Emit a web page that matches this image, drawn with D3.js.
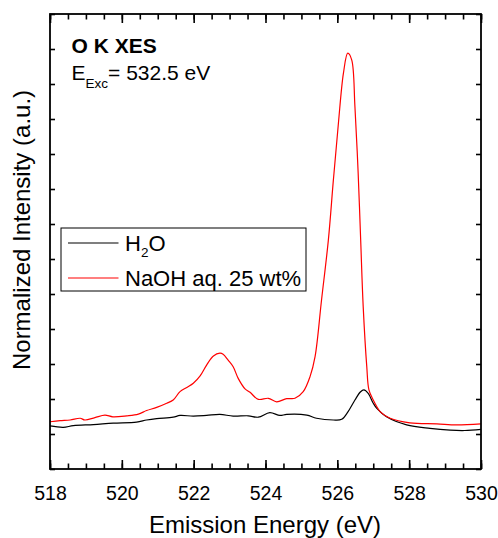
<!DOCTYPE html>
<html>
<head>
<meta charset="utf-8">
<script src="https://cdn.jsdelivr.net/npm/d3@7"></script>
<style>
  html, body { margin: 0; padding: 0; background: #fff; }
  svg { display: block; }
  text { font-family: Arial, "Liberation Sans", sans-serif; fill: #000; }
</style>
</head>
<body>
<script>
// O K-edge X-ray emission spectra, excitation 532.5 eV
const h2oEnergy = [518.00, 518.37, 518.65, 519.21, 519.76, 520.41, 520.69, 520.97, 521.43, 521.62,
  521.99, 522.36, 522.73, 523.10, 523.52, 523.80, 524.12, 524.40, 524.59, 525.15, 525.42, 525.89,
  526.12, 526.30, 526.49, 526.64, 526.74, 526.86, 527.00, 527.10, 527.37, 527.93, 528.58, 529.14, 529.55, 530.00];
const h2oIntensity = [1.23, 1.19, 1.24, 1.27, 1.31, 1.34, 1.40, 1.44, 1.48, 1.53,
  1.51, 1.53, 1.56, 1.51, 1.52, 1.48, 1.61, 1.53, 1.56, 1.54, 1.45, 1.40,
  1.42, 1.64, 1.97, 2.20, 2.26, 2.16, 1.88, 1.73, 1.49, 1.26, 1.16, 1.11, 1.10, 1.13];

const naohEnergy = [518.00, 518.28, 518.56, 518.84, 518.97, 519.25, 519.53, 519.75, 520.14, 520.46,
  520.69, 520.97, 521.25, 521.43, 521.62, 521.81, 521.99, 522.18, 522.36, 522.55, 522.73, 522.82,
  522.96, 523.10, 523.24, 523.43, 523.57, 523.80, 524.08, 524.31, 524.59, 524.82, 525.05, 525.24,
  525.38, 525.56, 525.75, 525.89, 526.03, 526.17, 526.29, 526.40, 526.49, 526.58, 526.65, 526.72,
  526.82, 526.88, 527.00, 527.10, 527.19, 527.47, 528.02, 528.77, 529.32, 530.00];
const naohIntensity = [1.35, 1.38, 1.40, 1.45, 1.40, 1.47, 1.54, 1.49, 1.52, 1.57,
  1.67, 1.76, 1.88, 1.97, 2.21, 2.33, 2.45, 2.66, 2.97, 3.23, 3.31, 3.28,
  3.11, 2.92, 2.59, 2.29, 2.19, 1.99, 2.02, 1.92, 2.01, 2.02, 2.21, 2.64,
  3.21, 4.83, 6.54, 8.26, 9.88, 11.31, 11.88, 11.69, 10.35, 8.45, 6.54, 4.64,
  2.92, 2.26, 1.97, 1.78, 1.64, 1.45, 1.32, 1.29, 1.26, 1.29];

const xMajorTicks = [518, 520, 522, 524, 526, 528, 530];
const xMinorTicks = d3.range(518, 530.001, 0.5);
const yTicks = d3.range(0, 13.001, 1);

const seriesNames = ["H\u2082O", "NaOH aq. 25 wt%"];
const seriesColors = ["#000000", "#ff0000"];

const W = 498, H = 538;
const plotLeft = 50, plotRight = 481, plotTop = 14, plotBottom = 469;

const svg = d3.select("body").append("svg").attr("width", W).attr("height", H);

const x = d3.scaleLinear().domain([518, 530]).range([plotLeft, plotRight]);
const y = d3.scaleLinear().domain([0, 13]).range([plotBottom, plotTop]);

const line = d3.line()
  .x(d => x(d[0]))
  .y(d => y(d[1]))
  .curve(d3.curveCatmullRom.alpha(0.5));

const plot = svg.append("g");
plot.append("path")
  .datum(d3.zip(h2oEnergy, h2oIntensity))
  .attr("d", line).attr("fill", "none")
  .attr("stroke", seriesColors[0]).attr("stroke-width", 1.2);
plot.append("path")
  .datum(d3.zip(naohEnergy, naohIntensity))
  .attr("d", line).attr("fill", "none")
  .attr("stroke", seriesColors[1]).attr("stroke-width", 1.2);

// Axes: inward ticks on all four sides
function styleAxis(g) {
  g.select(".domain").remove();
  g.selectAll(".tick line").attr("stroke", "#000").attr("stroke-width", 1.6);
}

const bottomMinor = d3.axisBottom(x).tickValues(xMinorTicks).tickSize(-5.5).tickFormat("");
const bottomMajor = d3.axisBottom(x).tickValues(xMajorTicks).tickSize(-9).tickPadding(17).tickFormat(d3.format("d"));
const topMinor = d3.axisTop(x).tickValues(xMinorTicks).tickSize(-5.5).tickFormat("");
const topMajor = d3.axisTop(x).tickValues(xMajorTicks).tickSize(-9).tickFormat("");
const leftAx = d3.axisLeft(y).tickValues(yTicks).tickSize(-5).tickFormat("");
const rightAx = d3.axisRight(y).tickValues(yTicks).tickSize(-5).tickFormat("");

svg.append("g").attr("transform", `translate(0,${plotBottom})`).call(bottomMinor).call(styleAxis);
const bm = svg.append("g").attr("transform", `translate(0,${plotBottom})`).call(bottomMajor).call(styleAxis);
bm.selectAll(".tick text")
  .attr("font-family", "Arial, 'Liberation Sans', sans-serif")
  .attr("font-size", 19.5).attr("fill", "#000");
svg.append("g").attr("transform", `translate(0,${plotTop})`).call(topMinor).call(styleAxis);
svg.append("g").attr("transform", `translate(0,${plotTop})`).call(topMajor).call(styleAxis);
svg.append("g").attr("transform", `translate(${plotLeft},0)`).call(leftAx).call(styleAxis);
svg.append("g").attr("transform", `translate(${plotRight},0)`).call(rightAx).call(styleAxis);

// Frame
svg.append("rect")
  .attr("x", plotLeft).attr("y", plotTop)
  .attr("width", plotRight - plotLeft).attr("height", plotBottom - plotTop)
  .attr("fill", "none").attr("stroke", "#000").attr("stroke-width", 1.8);

// Axis titles
svg.append("text")
  .attr("x", 265).attr("y", 532.5)
  .attr("text-anchor", "middle").attr("font-size", 24)
  .text("Emission Energy (eV)");
svg.append("text")
  .attr("transform", `translate(30,230) rotate(-90)`)
  .attr("text-anchor", "middle").attr("font-size", 24)
  .text("Normalized Intensity (a.u.)");

// Annotation
svg.append("text")
  .attr("x", 71.5).attr("y", 52.5)
  .attr("font-size", 21).attr("font-weight", "bold")
  .text("O K XES");
const ann = svg.append("text").attr("x", 71.5).attr("y", 80).attr("font-size", 21);
ann.append("tspan").text("E");
ann.append("tspan").attr("font-size", 13.5).attr("dy", 8).text("Exc");
ann.append("tspan").attr("dy", -8).text("= 532.5 eV");

// Legend
const lg = svg.append("g");
lg.append("rect")
  .attr("x", 61).attr("y", 228).attr("width", 245).attr("height", 63)
  .attr("fill", "#fff").attr("stroke", "#000").attr("stroke-width", 1);
const rowY = [243, 278];
seriesColors.forEach((c, i) => {
  lg.append("line")
    .attr("x1", 68).attr("x2", 118.5)
    .attr("y1", rowY[i]).attr("y2", rowY[i])
    .attr("stroke", c).attr("stroke-width", 1.2);
});
const t0 = lg.append("text").attr("x", 125).attr("y", 250.5).attr("font-size", 22);
t0.append("tspan").text("H");
t0.append("tspan").attr("font-size", 13.5).attr("dy", 6).text("2");
t0.append("tspan").attr("dy", -6).text("O");
lg.append("text").attr("x", 125).attr("y", 285.5).attr("font-size", 22).text(seriesNames[1]);
</script>
</body>
</html>
